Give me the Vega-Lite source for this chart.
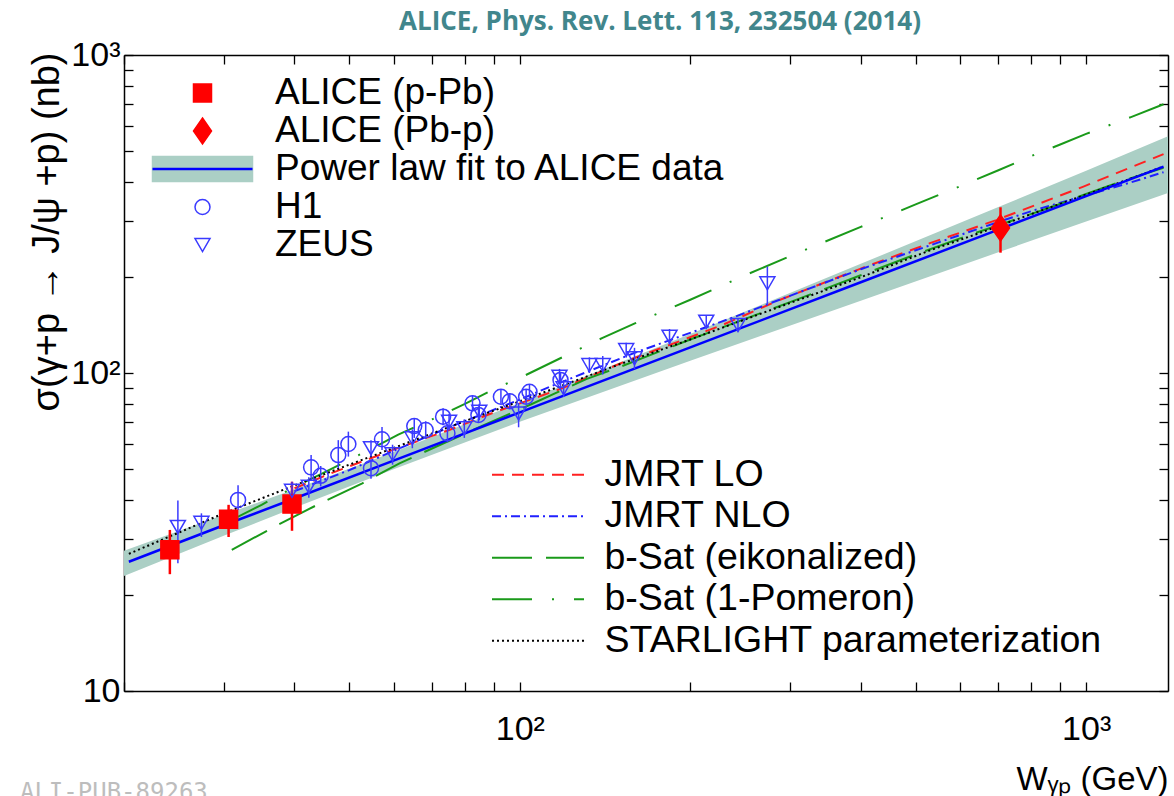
{
  "$schema": "https://vega.github.io/schema/vega-lite/v6.json",
  "width": 1044,
  "height": 636,
  "autosize": {"type": "none"},
  "padding": {"left": 124, "top": 55, "right": 6, "bottom": 105},
  "background": "white",
  "config": {
    "view": {"stroke": null},
    "font": "Liberation Sans",
    "axis": {"grid": false, "domainColor": "black", "tickColor": "black", "labelColor": "black", "titleColor": "black", "domainWidth": 1.5, "tickWidth": 1.3, "labelFont": "Liberation Sans", "titleFont": "Liberation Sans", "titleFontWeight": "normal"}
  },
  "title": {"text": "ALICE, Phys. Rev. Lett. 113, 232504 (2014)", "font": "Open Sans", "fontWeight": "bold", "fontSize": 26, "color": "#41868c", "anchor": "middle", "dx": 14, "offset": 3},
  "datasets": {
    "band": [
      {"W": 20, "lo": 23.0, "hi": 27.6},
      {"W": 30, "lo": 30.8, "hi": 35.8},
      {"W": 40, "lo": 37.7, "hi": 43.1},
      {"W": 60, "lo": 49.9, "hi": 56.5},
      {"W": 100, "lo": 70.2, "hi": 80.6},
      {"W": 200, "lo": 109.3, "hi": 132.6},
      {"W": 400, "lo": 168.8, "hi": 220.5},
      {"W": 700, "lo": 239.7, "hi": 332.5},
      {"W": 1000, "lo": 299.3, "hi": 432.5},
      {"W": 1395, "lo": 368, "hi": 555}
    ],
    "fit": [
      {"series": "fit", "W": 20.4, "sigma": 25.5},
      {"series": "fit", "W": 30, "sigma": 33.2},
      {"series": "fit", "W": 40, "sigma": 40.3},
      {"series": "fit", "W": 60, "sigma": 53.1},
      {"series": "fit", "W": 100, "sigma": 75.2},
      {"series": "fit", "W": 200, "sigma": 120.4},
      {"series": "fit", "W": 400, "sigma": 192.9},
      {"series": "fit", "W": 700, "sigma": 282.3},
      {"series": "fit", "W": 1000, "sigma": 359.8},
      {"series": "fit", "W": 1370, "sigma": 445.7}
    ],
    "models": [
      {"model": "JMRT LO", "W": 40, "sigma": 43.4},
      {"model": "JMRT LO", "W": 47, "sigma": 48.8},
      {"model": "JMRT LO", "W": 60, "sigma": 57.5},
      {"model": "JMRT LO", "W": 75, "sigma": 66.2},
      {"model": "JMRT LO", "W": 89, "sigma": 74.6},
      {"model": "JMRT LO", "W": 119, "sigma": 89.6},
      {"model": "JMRT LO", "W": 152, "sigma": 108},
      {"model": "JMRT LO", "W": 194, "sigma": 127},
      {"model": "JMRT LO", "W": 228, "sigma": 141.6},
      {"model": "JMRT LO", "W": 287.5, "sigma": 169.7},
      {"model": "JMRT LO", "W": 400, "sigma": 213},
      {"model": "JMRT LO", "W": 530, "sigma": 256},
      {"model": "JMRT LO", "W": 694, "sigma": 302.6},
      {"model": "JMRT LO", "W": 989, "sigma": 385.6},
      {"model": "JMRT LO", "W": 1370, "sigma": 488},
      {"model": "JMRT NLO", "W": 40, "sigma": 42.5},
      {"model": "JMRT NLO", "W": 50, "sigma": 49.5},
      {"model": "JMRT NLO", "W": 60, "sigma": 57},
      {"model": "JMRT NLO", "W": 75, "sigma": 67.5},
      {"model": "JMRT NLO", "W": 100, "sigma": 82.5},
      {"model": "JMRT NLO", "W": 113, "sigma": 90.5},
      {"model": "JMRT NLO", "W": 160, "sigma": 116},
      {"model": "JMRT NLO", "W": 238, "sigma": 149.5},
      {"model": "JMRT NLO", "W": 287.5, "sigma": 170},
      {"model": "JMRT NLO", "W": 400, "sigma": 212},
      {"model": "JMRT NLO", "W": 530, "sigma": 252},
      {"model": "JMRT NLO", "W": 694, "sigma": 297},
      {"model": "JMRT NLO", "W": 810, "sigma": 325},
      {"model": "JMRT NLO", "W": 989, "sigma": 360},
      {"model": "JMRT NLO", "W": 1197, "sigma": 397},
      {"model": "JMRT NLO", "W": 1370, "sigma": 428},
      {"model": "b-Sat (eikonalized)", "W": 31, "sigma": 27.8},
      {"model": "b-Sat (eikonalized)", "W": 37.4, "sigma": 33.3},
      {"model": "b-Sat (eikonalized)", "W": 43.5, "sigma": 38.2},
      {"model": "b-Sat (eikonalized)", "W": 52.7, "sigma": 45},
      {"model": "b-Sat (eikonalized)", "W": 61.3, "sigma": 52},
      {"model": "b-Sat (eikonalized)", "W": 80, "sigma": 64.5},
      {"model": "b-Sat (eikonalized)", "W": 105, "sigma": 79.9},
      {"model": "b-Sat (eikonalized)", "W": 131, "sigma": 95.7},
      {"model": "b-Sat (eikonalized)", "W": 150, "sigma": 104.4},
      {"model": "b-Sat (eikonalized)", "W": 200, "sigma": 127.5},
      {"model": "b-Sat (eikonalized)", "W": 300, "sigma": 167},
      {"model": "b-Sat (eikonalized)", "W": 400, "sigma": 203},
      {"model": "b-Sat (eikonalized)", "W": 500, "sigma": 236},
      {"model": "b-Sat (eikonalized)", "W": 620, "sigma": 271},
      {"model": "b-Sat (eikonalized)", "W": 750, "sigma": 304},
      {"model": "b-Sat (eikonalized)", "W": 900, "sigma": 340},
      {"model": "b-Sat (eikonalized)", "W": 1000, "sigma": 366},
      {"model": "b-Sat (eikonalized)", "W": 1200, "sigma": 410},
      {"model": "b-Sat (eikonalized)", "W": 1370, "sigma": 442},
      {"model": "b-Sat (1-Pomeron)", "W": 31, "sigma": 34.5},
      {"model": "b-Sat (1-Pomeron)", "W": 35, "sigma": 38.5},
      {"model": "b-Sat (1-Pomeron)", "W": 40, "sigma": 43.8},
      {"model": "b-Sat (1-Pomeron)", "W": 45, "sigma": 48.5},
      {"model": "b-Sat (1-Pomeron)", "W": 52.7, "sigma": 55.9},
      {"model": "b-Sat (1-Pomeron)", "W": 61, "sigma": 64},
      {"model": "b-Sat (1-Pomeron)", "W": 70, "sigma": 71.5},
      {"model": "b-Sat (1-Pomeron)", "W": 80, "sigma": 80},
      {"model": "b-Sat (1-Pomeron)", "W": 90, "sigma": 89},
      {"model": "b-Sat (1-Pomeron)", "W": 100, "sigma": 96.5},
      {"model": "b-Sat (1-Pomeron)", "W": 120, "sigma": 113},
      {"model": "b-Sat (1-Pomeron)", "W": 140, "sigma": 129},
      {"model": "b-Sat (1-Pomeron)", "W": 160, "sigma": 143.5},
      {"model": "b-Sat (1-Pomeron)", "W": 180, "sigma": 157},
      {"model": "b-Sat (1-Pomeron)", "W": 200, "sigma": 170},
      {"model": "b-Sat (1-Pomeron)", "W": 250, "sigma": 203},
      {"model": "b-Sat (1-Pomeron)", "W": 300, "sigma": 233},
      {"model": "b-Sat (1-Pomeron)", "W": 400, "sigma": 288},
      {"model": "b-Sat (1-Pomeron)", "W": 500, "sigma": 339},
      {"model": "b-Sat (1-Pomeron)", "W": 600, "sigma": 387},
      {"model": "b-Sat (1-Pomeron)", "W": 700, "sigma": 434},
      {"model": "b-Sat (1-Pomeron)", "W": 820, "sigma": 490},
      {"model": "b-Sat (1-Pomeron)", "W": 900, "sigma": 523},
      {"model": "b-Sat (1-Pomeron)", "W": 1000, "sigma": 565},
      {"model": "b-Sat (1-Pomeron)", "W": 1200, "sigma": 638},
      {"model": "b-Sat (1-Pomeron)", "W": 1370, "sigma": 700},
      {"model": "STARLIGHT parameterization", "W": 20.4, "sigma": 27.0},
      {"model": "STARLIGHT parameterization", "W": 25, "sigma": 31.5},
      {"model": "STARLIGHT parameterization", "W": 30, "sigma": 36.2},
      {"model": "STARLIGHT parameterization", "W": 40, "sigma": 44.3},
      {"model": "STARLIGHT parameterization", "W": 50, "sigma": 51.5},
      {"model": "STARLIGHT parameterization", "W": 60, "sigma": 58.2},
      {"model": "STARLIGHT parameterization", "W": 80, "sigma": 70.6},
      {"model": "STARLIGHT parameterization", "W": 100, "sigma": 81.5},
      {"model": "STARLIGHT parameterization", "W": 150, "sigma": 106.5},
      {"model": "STARLIGHT parameterization", "W": 200, "sigma": 127.5},
      {"model": "STARLIGHT parameterization", "W": 300, "sigma": 166},
      {"model": "STARLIGHT parameterization", "W": 400, "sigma": 200},
      {"model": "STARLIGHT parameterization", "W": 530, "sigma": 243},
      {"model": "STARLIGHT parameterization", "W": 650, "sigma": 276},
      {"model": "STARLIGHT parameterization", "W": 800, "sigma": 316},
      {"model": "STARLIGHT parameterization", "W": 1000, "sigma": 364},
      {"model": "STARLIGHT parameterization", "W": 1200, "sigma": 409},
      {"model": "STARLIGHT parameterization", "W": 1370, "sigma": 446}
    ],
    "points": [
      {"series": "ALICE (p-Pb)", "W": 24.1, "sigma": 27.8, "lo": 23.3, "hi": 32.1},
      {"series": "ALICE (p-Pb)", "W": 30.6, "sigma": 34.7, "lo": 30.5, "hi": 38.5},
      {"series": "ALICE (p-Pb)", "W": 39.6, "sigma": 38.7, "lo": 31.9, "hi": 45.5},
      {"series": "ALICE (Pb-p)", "W": 706, "sigma": 286, "lo": 239, "hi": 332},
      {"series": "H1", "W": 31.8, "sigma": 39.9, "lo": 37.1, "hi": 44.4},
      {"series": "H1", "W": 42.8, "sigma": 50.5, "lo": 46.1, "hi": 55.2},
      {"series": "H1", "W": 44.5, "sigma": 47.5, "lo": 44.0, "hi": 51.0},
      {"series": "H1", "W": 47.8, "sigma": 55.2, "lo": 50.2, "hi": 61.5},
      {"series": "H1", "W": 49.8, "sigma": 59.8, "lo": 54.6, "hi": 65.4},
      {"series": "H1", "W": 54.6, "sigma": 50.2, "lo": 46.5, "hi": 53.5},
      {"series": "H1", "W": 57.1, "sigma": 61.9, "lo": 57.3, "hi": 67.6},
      {"series": "H1", "W": 65.1, "sigma": 68.1, "lo": 62.5, "hi": 72.2},
      {"series": "H1", "W": 68.2, "sigma": 66.2, "lo": 62.0, "hi": 70.5},
      {"series": "H1", "W": 73.2, "sigma": 72.9, "lo": 68.5, "hi": 77.5},
      {"series": "H1", "W": 74.5, "sigma": 64.6, "lo": 60.5, "hi": 69.0},
      {"series": "H1", "W": 82.5, "sigma": 80.3, "lo": 76.0, "hi": 85.0},
      {"series": "H1", "W": 84.5, "sigma": 73.8, "lo": 70.0, "hi": 78.0},
      {"series": "H1", "W": 92.6, "sigma": 84.2, "lo": 80.0, "hi": 88.5},
      {"series": "H1", "W": 96.0, "sigma": 81.5, "lo": 77.5, "hi": 86.0},
      {"series": "H1", "W": 102.6, "sigma": 84.2, "lo": 80.0, "hi": 88.5},
      {"series": "H1", "W": 104.0, "sigma": 87.3, "lo": 83.0, "hi": 92.0},
      {"series": "H1", "W": 118.0, "sigma": 95.1, "lo": 90.0, "hi": 100.0},
      {"series": "ZEUS", "W": 24.9, "sigma": 32.8, "lo": 25.2, "hi": 39.7},
      {"series": "ZEUS", "W": 27.4, "sigma": 33.8, "lo": 30.5, "hi": 36.2},
      {"series": "ZEUS", "W": 39.6, "sigma": 42.6, "lo": 39.5, "hi": 45.5},
      {"series": "ZEUS", "W": 42.4, "sigma": 43.9, "lo": 40.5, "hi": 47.0},
      {"series": "ZEUS", "W": 54.6, "sigma": 58.0, "lo": 54.5, "hi": 61.5},
      {"series": "ZEUS", "W": 59.6, "sigma": 55.5, "lo": 51.5, "hi": 59.5},
      {"series": "ZEUS", "W": 64.6, "sigma": 62.3, "lo": 58.0, "hi": 66.5},
      {"series": "ZEUS", "W": 75.0, "sigma": 70.3, "lo": 66.0, "hi": 74.5},
      {"series": "ZEUS", "W": 79.8, "sigma": 67.0, "lo": 62.5, "hi": 71.5},
      {"series": "ZEUS", "W": 84.8, "sigma": 75.6, "lo": 71.0, "hi": 80.0},
      {"series": "ZEUS", "W": 99.5, "sigma": 74.6, "lo": 67.5, "hi": 80.5},
      {"series": "ZEUS", "W": 117.5, "sigma": 97.4, "lo": 92.0, "hi": 103.0},
      {"series": "ZEUS", "W": 119.5, "sigma": 89.5, "lo": 84.0, "hi": 95.0},
      {"series": "ZEUS", "W": 132.7, "sigma": 105.9, "lo": 100.0, "hi": 112.0},
      {"series": "ZEUS", "W": 140.1, "sigma": 105.9, "lo": 99.0, "hi": 113.0},
      {"series": "ZEUS", "W": 154.1, "sigma": 118.1, "lo": 112.0, "hi": 124.5},
      {"series": "ZEUS", "W": 159.4, "sigma": 111.2, "lo": 103.0, "hi": 120.0},
      {"series": "ZEUS", "W": 183.8, "sigma": 130.1, "lo": 123.0, "hi": 137.5},
      {"series": "ZEUS", "W": 213.4, "sigma": 145.0, "lo": 138.0, "hi": 152.0},
      {"series": "ZEUS", "W": 242.8, "sigma": 141.5, "lo": 135.0, "hi": 148.5},
      {"series": "ZEUS", "W": 273.6, "sigma": 191.4, "lo": 163.7, "hi": 216.0}
    ]
  },
  "layer": [
    {
      "data": {"name": "band"},
      "mark": {"type": "area", "color": "#abcfc5", "clip": true},
      "encoding": {
        "x": {"field": "W", "type": "quantitative", "scale": {"type": "log", "domain": [20, 1395], "nice": false},
          "axis": {"orient": "bottom", "values": [20, 30, 40, 50, 60, 70, 80, 90, 100, 200, 300, 400, 500, 600, 700, 800, 900, 1000],
            "labelExpr": "datum.value == 100 ? '10²' : datum.value == 1000 ? '10³' : ''",
            "tickSize": -9, "labelFontSize": 34, "labelPadding": 30, "labelFlush": false, "labelOverlap": false,
            "title": "Wᵧₚ (GeV)", "titleFontSize": 33, "titleAlign": "right", "titleAnchor": "end", "titleX": 1044, "titleY": 98, "titleBaseline": "alphabetic",
            "encode": {"ticks": {"update": {"y2": {"signal": "datum.value == 100 || datum.value == 1000 ? -18 : -9"}}}}}},
        "y": {"field": "lo", "type": "quantitative", "scale": {"type": "log", "domain": [10, 1000], "nice": false},
          "axis": {"orient": "left", "values": [10, 20, 30, 40, 50, 60, 70, 80, 90, 100, 200, 300, 400, 500, 600, 700, 800, 900, 1000],
            "labelExpr": "datum.value == 10 ? '10' : datum.value == 100 ? '10²' : datum.value == 1000 ? '10³' : ''",
            "tickSize": -9, "labelFontSize": 34, "labelPadding": 13, "labelFlush": false, "labelOverlap": false,
            "title": "σ(γ+p  →  J/ψ +p) (nb)", "titleFontSize": 38, "titleAngle": -90, "titleAlign": "right", "titleAnchor": "end", "titleX": -66, "titleY": -3, "titleBaseline": "alphabetic",
            "encode": {"ticks": {"update": {"x2": {"signal": "datum.value == 10 || datum.value == 100 || datum.value == 1000 ? 18 : 9"}}}}}},
        "y2": {"field": "hi"}
      }
    },
    {
      "data": {"name": "models"},
      "mark": {"type": "line", "strokeWidth": 2, "clip": true},
      "encoding": {
        "x": {"field": "W", "type": "quantitative", "axis": null},
        "y": {"field": "sigma", "type": "quantitative", "axis": null},
        "stroke": {"field": "model", "type": "nominal",
          "scale": {"domain": ["JMRT LO", "JMRT NLO", "b-Sat (eikonalized)", "b-Sat (1-Pomeron)", "STARLIGHT parameterization"], "range": ["#ff2020", "#2020ff", "#1a9a1a", "#1a9a1a", "#000000"]},
          "legend": {"orient": "none", "legendX": 395.25, "legendY": 401, "title": null, "padding": 0, "rowPadding": 2.5, "symbolType": "M-4.6,0H4.6", "symbolSize": 400, "symbolStrokeWidth": 2, "labelFontSize": 37.5, "labelOffset": 47.75, "symbolOffset": 0, "labelLimit": 0, "labelColor": "black", "symbolFillColor": "transparent"}},
        "strokeDash": {"field": "model", "type": "nominal",
          "scale": {"domain": ["JMRT LO", "JMRT NLO", "b-Sat (eikonalized)", "b-Sat (1-Pomeron)", "STARLIGHT parameterization"], "range": [[12, 8], [9, 4, 2, 4], [40, 14], [40, 20, 2, 20], [2, 3]]},
          "legend": {"orient": "none", "legendX": 395.25, "legendY": 401, "title": null, "padding": 0, "rowPadding": 2.5, "symbolType": "M-4.6,0H4.6", "symbolSize": 400, "symbolStrokeWidth": 2, "labelFontSize": 37.5, "labelOffset": 47.75, "symbolOffset": 0, "labelLimit": 0, "labelColor": "black", "symbolFillColor": "transparent"}}
      }
    },
    {
      "data": {"name": "fit"},
      "mark": {"type": "line", "strokeWidth": 2.5, "clip": true},
      "encoding": {
        "x": {"field": "W", "type": "quantitative",
          "axis": {"orient": "top", "values": [20, 30, 40, 50, 60, 70, 80, 90, 100, 200, 300, 400, 500, 600, 700, 800, 900, 1000], "labels": false, "title": null, "tickSize": -9,
            "encode": {"ticks": {"update": {"y2": {"signal": "datum.value == 100 || datum.value == 1000 ? 18 : 9"}}}}}},
        "y": {"field": "sigma", "type": "quantitative",
          "axis": {"orient": "right", "values": [10, 20, 30, 40, 50, 60, 70, 80, 90, 100, 200, 300, 400, 500, 600, 700, 800, 900, 1000], "labels": false, "title": null, "tickSize": -9,
            "encode": {"ticks": {"update": {"x2": {"signal": "datum.value == 10 || datum.value == 100 || datum.value == 1000 ? -18 : -9"}}}}}},
        "stroke": {"field": "series", "type": "nominal",
          "scale": {"domain": ["p1", "p2", "fit", "p4", "p5"], "range": ["transparent", "transparent", "#0000ff", "transparent", "transparent"]},
          "legend": {"orient": "none", "legendX": 60, "legendY": 19.5, "zindex": 5, "title": null, "padding": 0, "rowPadding": 0, "symbolType": "M-5,0H5", "symbolSize": 400, "symbolStrokeWidth": 2.5, "labelFontSize": 37, "labelOffset": 54, "symbolOffset": 0, "labelLimit": 0, "labelColor": "transparent", "labelExpr": "' '", "symbolFillColor": "transparent"}}
      }
    },
    {
      "data": {"name": "points"},
      "mark": {"type": "rule", "clip": true},
      "encoding": {
        "x": {"field": "W", "type": "quantitative", "axis": null},
        "y": {"field": "lo", "type": "quantitative", "axis": null},
        "y2": {"field": "hi"},
        "stroke": {"condition": {"test": "indexof(datum.series, 'ALICE') >= 0", "value": "#ff0000"}, "value": "#3a3aff"},
        "strokeWidth": {"condition": {"test": "indexof(datum.series, 'ALICE') >= 0", "value": 2.5}, "value": 1.5}
      }
    },
    {
      "data": {"name": "points"},
      "mark": {"type": "point", "size": 400, "strokeWidth": 1.5, "opacity": 1},
      "encoding": {
        "x": {"field": "W", "type": "quantitative", "axis": null},
        "y": {"field": "sigma", "type": "quantitative", "axis": null},
        "shape": {"field": "series", "type": "nominal",
          "scale": {"domain": ["ALICE (p-Pb)", "ALICE (Pb-p)", "Power law fit to ALICE data", "H1", "ZEUS"],
            "range": ["M-0.9,-0.9H0.9V0.9H-0.9Z", "M0,-1.3L0.9,0L0,1.3L-0.9,0Z", "M-5,-1.25H5V1.25H-5Z", "M0.75,0A0.75,0.75,0,1,1,-0.75,0A0.75,0.75,0,1,1,0.75,0Z", "M-0.75,-0.65L0.75,-0.65L0,0.65Z"]},
          "legend": {"orient": "none", "legendX": 60, "legendY": 19.5, "title": null, "padding": 0, "rowPadding": 0, "symbolSize": 400, "symbolStrokeWidth": 1.5, "labelFontSize": 37, "labelOffset": 54, "symbolOffset": 0, "labelLimit": 0, "labelColor": "black"}},
        "fill": {"field": "series", "type": "nominal",
          "scale": {"domain": ["ALICE (p-Pb)", "ALICE (Pb-p)", "Power law fit to ALICE data", "H1", "ZEUS"], "range": ["#ff0000", "#ff0000", "#abcfc5", "transparent", "transparent"]},
          "legend": {"orient": "none", "legendX": 60, "legendY": 19.5, "title": null, "padding": 0, "rowPadding": 0, "symbolSize": 400, "symbolStrokeWidth": 1.5, "labelFontSize": 37, "labelOffset": 54, "symbolOffset": 0, "labelLimit": 0, "labelColor": "black"}},
        "stroke": {"field": "series", "type": "nominal",
          "scale": {"domain": ["ALICE (p-Pb)", "ALICE (Pb-p)", "Power law fit to ALICE data", "H1", "ZEUS"], "range": ["#ff0000", "#ff0000", "#abcfc5", "#3a3aff", "#3a3aff"]},
          "legend": {"orient": "none", "legendX": 60, "legendY": 19.5, "title": null, "padding": 0, "rowPadding": 0, "symbolSize": 400, "symbolStrokeWidth": 1.5, "labelFontSize": 37, "labelOffset": 54, "symbolOffset": 0, "labelLimit": 0, "labelColor": "black"}}
      }
    },
    {
      "data": {"values": [{}]},
      "mark": {"type": "text", "clip": false, "align": "left", "baseline": "alphabetic", "font": "DejaVu Sans Mono", "fontSize": 24, "color": "#bdbdbd"},
      "encoding": {
        "x": {"datum": 13.1, "type": "quantitative", "axis": null},
        "y": {"datum": 4.54, "type": "quantitative", "axis": null},
        "text": {"value": "ALI-PUB-89263"}
      }
    }
  ],
  "resolve": {
    "scale": {"stroke": "independent", "fill": "independent", "shape": "independent", "strokeDash": "independent"},
    "axis": {"x": "independent", "y": "independent"},
    "legend": {"stroke": "independent", "fill": "independent", "shape": "independent", "strokeDash": "independent"}
  }
}
